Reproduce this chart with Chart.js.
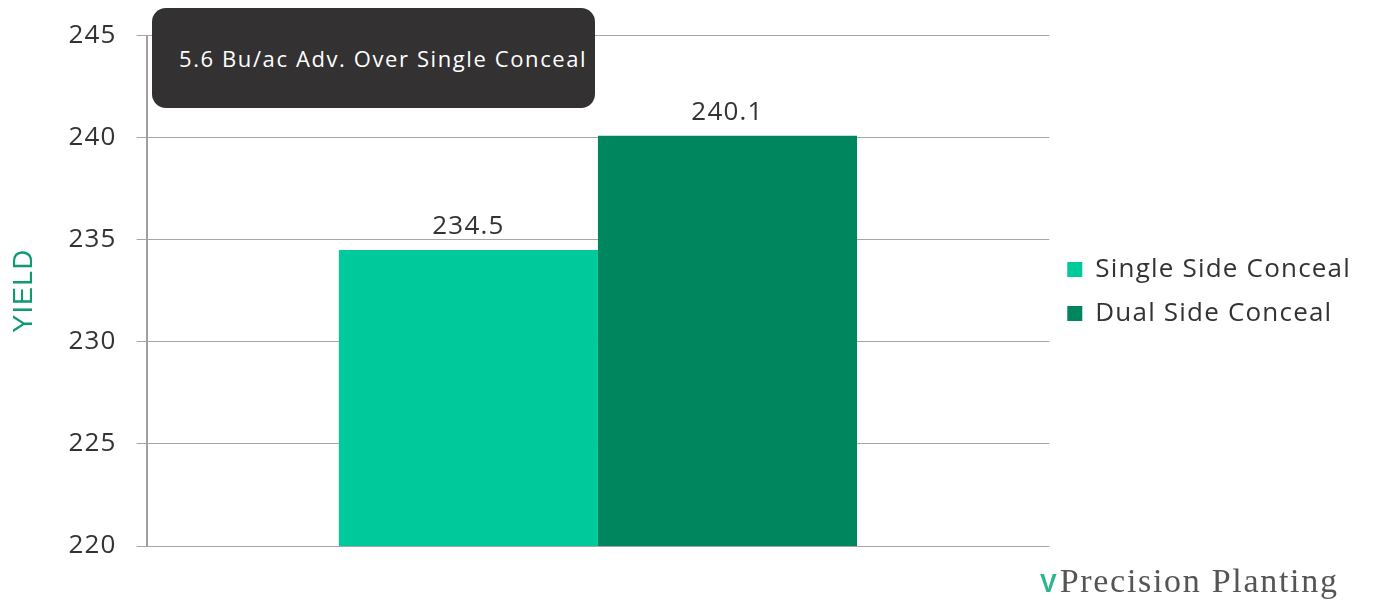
<!DOCTYPE html>
<html>
<head>
<meta charset="utf-8">
<script src="https://cdn.jsdelivr.net/npm/chart.js@4"></script>
<style>
  html, body { margin: 0; padding: 0; background: #fff; }
  #wrap { position: relative; width: 1375px; height: 606px; }
  #callout {
    position: absolute; left: 152px; top: 8px; width: 443px; height: 100px;
    background: #333132; border-radius: 14px; color: #fff;
    font: 22px "Open Sans", sans-serif; letter-spacing: 1.6px; box-sizing: border-box;
    padding: 35px 0 0 27px; white-space: nowrap;
  }
  #logo {
    position: absolute; left: 1040px; top: 562px;
    font: 34px "Liberation Serif", serif; color: #555; letter-spacing: 1.7px; white-space: nowrap;
  }
  #logo span {
    color: #2bb58a; font: bold 25px "Liberation Sans", sans-serif;
    letter-spacing: 0; margin-right: 3px;
  }
</style>
</head>
<body>
<div id="wrap">
  <canvas id="chart" width="1375" height="606"></canvas>
  <div id="callout">5.6 Bu/ac Adv. Over Single Conceal</div>
  <div id="logo"><span>V</span>Precision Planting</div>
</div>
<script>
// values
const categories = [""];
const seriesNames = ["Single Side Conceal", "Dual Side Conceal"];
const singleSide = [234.5];
const dualSide = [240.1];
const yTicks = [220, 225, 230, 235, 240, 245];

const COLORS = ["#00c99b", "#00865f"];
const FONT = "'Open Sans', sans-serif";

// the source text is slightly letter-spaced everywhere
const SPACING = {
  id: "spacing",
  beforeInit(chart) { chart.ctx.letterSpacing = "1.2px"; },
  beforeUpdate(chart) { chart.ctx.letterSpacing = "1.2px"; },
  beforeDraw(chart) { chart.ctx.letterSpacing = "1.2px"; },
};

const VALUE_LABELS = {
  id: "valueLabels",
  afterDatasetsDraw(chart) {
    const { ctx } = chart;
    ctx.save();
    ctx.font = `26px ${FONT}`;
    ctx.fillStyle = "#333";
    ctx.textAlign = "center";
    ctx.textBaseline = "bottom";
    chart.data.datasets.forEach((ds, i) => {
      chart.getDatasetMeta(i).data.forEach((bar, j) => {
        ctx.fillText(ds.data[j].toFixed(1), bar.x, bar.y - 10);
      });
    });
    ctx.restore();
  },
};

new Chart(document.getElementById("chart"), {
  type: "bar",
  data: {
    labels: categories,
    datasets: [
      { label: seriesNames[0], data: singleSide, backgroundColor: COLORS[0] },
      { label: seriesNames[1], data: dualSide, backgroundColor: COLORS[1] },
    ],
  },
  options: {
    responsive: false,
    animation: false,
    layout: { padding: { left: 4, top: 19, bottom: 60, right: 14 } },
    datasets: { bar: { barPercentage: 1, categoryPercentage: 0.574 } },
    plugins: {
      tooltip: { enabled: false },
      legend: {
        position: "right",
        title: { display: true, text: " ", font: { size: 1 }, padding: { top: 0, bottom: 17 } },
        labels: {
          font: { family: FONT, size: 26 },
          color: "#333",
          boxWidth: 15,
          boxHeight: 15,
          padding: 18,
        },
      },
    },
    scales: {
      x: { display: false },
      y: {
        min: 220,
        max: 245,
        afterBuildTicks: (axis) => { axis.ticks = yTicks.map((v) => ({ value: v })); },
        grid: { color: "#a6a6a6", tickLength: 10, tickColor: "#a6a6a6" },
        border: { color: "#a0a0a0", width: 2 },
        ticks: { font: { family: FONT, size: 26 }, color: "#333", padding: 20 },
        title: {
          display: true,
          text: "YIELD",
          color: "#0e9a72",
          font: { family: "'Liberation Sans', sans-serif", size: 27 },
          padding: { top: 4, bottom: 8 },
        },
      },
    },
  },
  plugins: [SPACING, VALUE_LABELS],
});
</script>
</body>
</html>
